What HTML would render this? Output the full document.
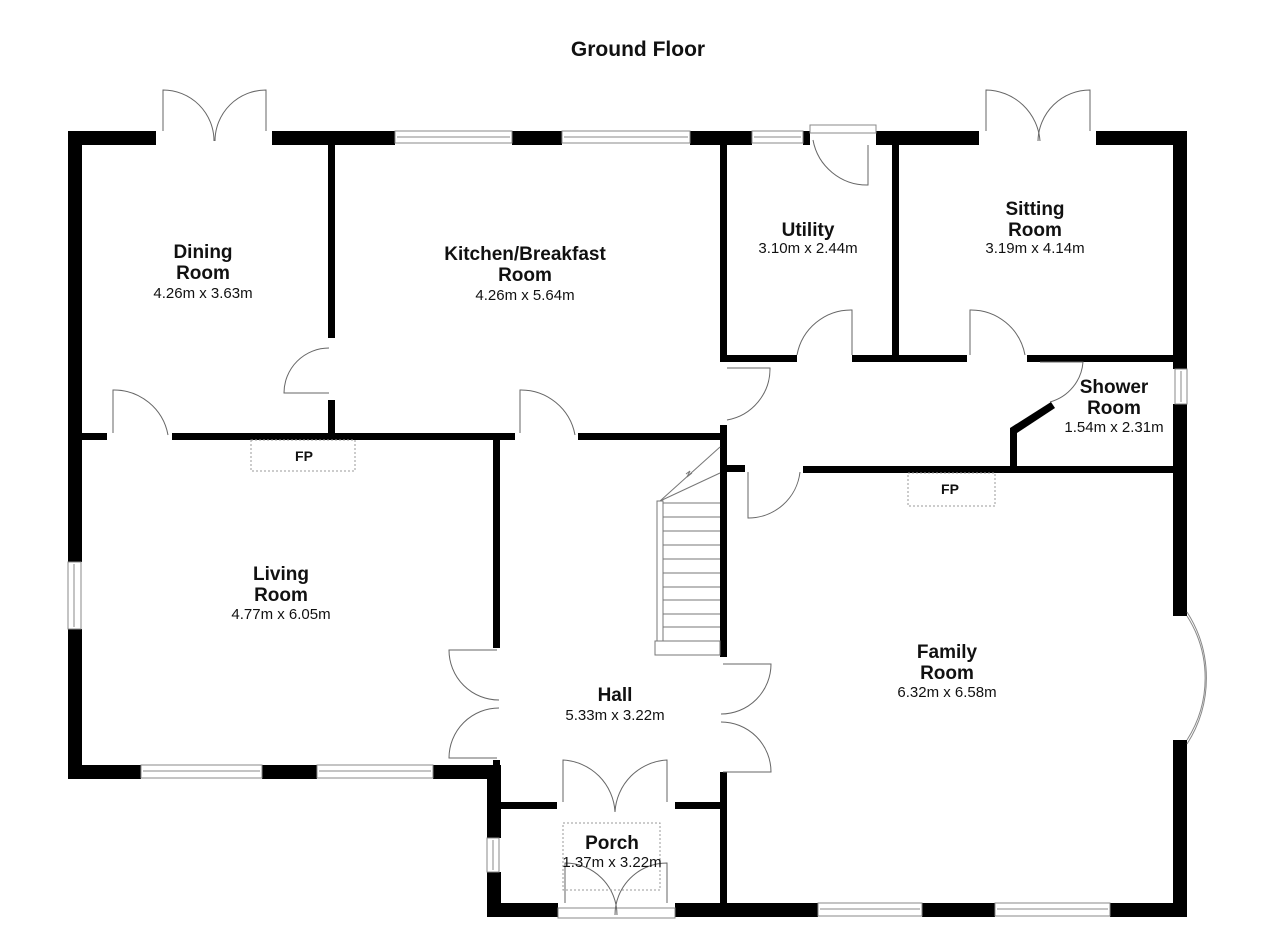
<!DOCTYPE html>
<html><head><meta charset="utf-8"><style>
html,body{margin:0;padding:0;background:#fff;}
svg{display:block;}
text{font-family:"Liberation Sans",Arial,sans-serif;fill:#111;text-anchor:middle;}
.t{font-weight:bold;font-size:19px;}
.d{font-size:15px;}
.door{fill:none;stroke:#666;stroke-width:1;}
.win{fill:#fff;stroke:#888;stroke-width:1;}
.fp{fill:none;stroke:#999;stroke-width:1;stroke-dasharray:2,2;}
</style></head><body>
<svg width="1280" height="931" viewBox="0 0 1280 931" xmlns="http://www.w3.org/2000/svg">
<rect width="1280" height="931" fill="#fff"/>
<text x="638" y="56" style="font-weight:bold;font-size:21px">Ground Floor</text>

<g fill="#000">
<!-- exterior -->
<rect x="68" y="131" width="14" height="431"/>
<rect x="68" y="629" width="14" height="150"/>
<rect x="68" y="131" width="88" height="14"/>
<rect x="272" y="131" width="123" height="14"/>
<rect x="512" y="131" width="50" height="14"/>
<rect x="690" y="131" width="62" height="14"/>
<rect x="803" y="131" width="7" height="14"/>
<rect x="876" y="131" width="103" height="14"/>
<rect x="1096" y="131" width="91" height="14"/>
<rect x="1173" y="131" width="14" height="238"/>
<rect x="1173" y="404" width="14" height="212"/>
<rect x="1173" y="740" width="14" height="177"/>
<rect x="68" y="765" width="73" height="14"/>
<rect x="262" y="765" width="55" height="14"/>
<rect x="433" y="765" width="68" height="14"/>
<rect x="487" y="765" width="14" height="73"/>
<rect x="487" y="872" width="14" height="45"/>
<rect x="487" y="903" width="71" height="14"/>
<rect x="675" y="903" width="143" height="14"/>
<rect x="922" y="903" width="73" height="14"/>
<rect x="1110" y="903" width="77" height="14"/>
<!-- interior -->
<rect x="328" y="145" width="7" height="193"/>
<rect x="328" y="400" width="7" height="35"/>
<rect x="82" y="433" width="25" height="7"/>
<rect x="172" y="433" width="343" height="7"/>
<rect x="578" y="433" width="149" height="7"/>
<rect x="493" y="440" width="7" height="208"/>
<rect x="493" y="760" width="7" height="50"/>
<rect x="500" y="802" width="57" height="7"/>
<rect x="675" y="802" width="45" height="7"/>
<rect x="720" y="145" width="7" height="217"/>
<rect x="720" y="425" width="7" height="232"/>
<rect x="720" y="772" width="7" height="134"/>
<rect x="727" y="355" width="70" height="7"/>
<rect x="852" y="355" width="115" height="7"/>
<rect x="892" y="145" width="7" height="212"/>
<rect x="1027" y="355" width="146" height="7"/>
<rect x="727" y="465" width="18" height="7"/>
<rect x="803" y="466" width="370" height="7"/>
<rect x="1010" y="428" width="7" height="40"/>
<polygon points="1010,428 1051,402 1055,408 1017,433"/>
</g>

<!-- windows -->
<g class="win">
<rect x="395" y="131" width="117" height="12"/><line x1="397" y1="137" x2="510" y2="137"/>
<rect x="562" y="131" width="128" height="12"/><line x1="564" y1="137" x2="688" y2="137"/>
<rect x="752" y="131" width="51" height="12"/><line x1="754" y1="137" x2="801" y2="137"/>
<rect x="810" y="125" width="66" height="8"/>
<rect x="141" y="765" width="121" height="13"/><line x1="143" y1="771" x2="260" y2="771"/>
<rect x="317" y="765" width="116" height="13"/><line x1="319" y1="771" x2="431" y2="771"/>
<rect x="818" y="903" width="104" height="13"/><line x1="820" y1="909" x2="920" y2="909"/>
<rect x="995" y="903" width="115" height="13"/><line x1="997" y1="909" x2="1108" y2="909"/>
<rect x="68" y="562" width="13" height="67"/><line x1="74" y1="564" x2="74" y2="627"/>
<rect x="1175" y="369" width="12" height="35"/><line x1="1181" y1="371" x2="1181" y2="402"/>
<rect x="487" y="838" width="12" height="34"/><line x1="493" y1="840" x2="493" y2="870"/>
<rect x="558" y="908" width="117" height="10"/>
<path d="M1187,616 A115,115 0 0 1 1187,740" fill="none"/>
<path d="M1187,612 A122,122 0 0 1 1187,744" fill="none"/>
</g>

<!-- doors -->
<g class="door">
<path d="M163,131 V90 A51,51 0 0 1 214,141"/>
<path d="M266,131 V90 A51,51 0 0 0 215,141"/>
<path d="M986,131 V90 A55,55 0 0 1 1040,141"/>
<path d="M1090,131 V90 A52,52 0 0 0 1038,141"/>
<path d="M329,393 H284 A45,45 0 0 1 329,348"/>
<path d="M113,433 V390 A55,55 0 0 1 168,435"/>
<path d="M520,433 V390 A55,55 0 0 1 575,435"/>
<path d="M868,145 V185 A55,55 0 0 1 813,140"/>
<path d="M852,355 V310 A55,55 0 0 0 797,355"/>
<path d="M970,355 V310 A55,55 0 0 1 1025,355"/>
<path d="M727,368 H770 A52,52 0 0 1 727,420"/>
<path d="M748,472 V518 A52,52 0 0 0 800,472"/>
<path d="M1040,362 H1083 A45,45 0 0 1 1050,402"/>
<path d="M497,650 H449 A50,50 0 0 0 499,700"/>
<path d="M497,758 H449 A50,50 0 0 1 499,708"/>
<path d="M723,664 H771 A50,50 0 0 1 721,714"/>
<path d="M723,772 H771 A50,50 0 0 0 721,722"/>
<path d="M563,802 V760 A55,55 0 0 1 615,812"/>
<path d="M667,802 V760 A55,55 0 0 0 615,812"/>
<path d="M565,903 V863 A52,52 0 0 1 617,915"/>
<path d="M667,903 V863 A52,52 0 0 0 615,915"/>
</g>

<!-- stairs -->
<g fill="none" stroke="#777" stroke-width="1">
<rect x="657" y="501" width="6" height="140"/>
<rect x="655" y="641" width="65" height="14"/>
<line x1="663" y1="503" x2="720" y2="503"/>
<line x1="663" y1="517" x2="720" y2="517"/>
<line x1="663" y1="531" x2="720" y2="531"/>
<line x1="663" y1="545" x2="720" y2="545"/>
<line x1="663" y1="559" x2="720" y2="559"/>
<line x1="663" y1="573" x2="720" y2="573"/>
<line x1="663" y1="587" x2="720" y2="587"/>
<line x1="663" y1="600" x2="720" y2="600"/>
<line x1="663" y1="614" x2="720" y2="614"/>
<line x1="663" y1="627" x2="720" y2="627"/>
<line x1="660" y1="501" x2="720" y2="447"/>
<line x1="660" y1="501" x2="720" y2="473"/>
<path d="M686,474 l4,-3 -3,6 5,-4"/>
</g>

<!-- fireplaces / porch dashed -->
<rect class="fp" x="251" y="440" width="104" height="31"/>
<rect class="fp" x="908" y="473" width="87" height="33"/>
<rect class="fp" x="563" y="823" width="97" height="67"/>
<text x="304" y="461" style="font-weight:bold;font-size:14px">FP</text>
<text x="950" y="494" style="font-weight:bold;font-size:14px">FP</text>

<!-- labels -->
<text class="t" x="203" y="258">Dining</text>
<text class="t" x="203" y="279">Room</text>
<text class="d" x="203" y="298">4.26m x 3.63m</text>
<text class="t" x="525" y="260">Kitchen/Breakfast</text>
<text class="t" x="525" y="281">Room</text>
<text class="d" x="525" y="300">4.26m x 5.64m</text>
<text class="t" x="808" y="236">Utility</text>
<text class="d" x="808" y="253">3.10m x 2.44m</text>
<text class="t" x="1035" y="215">Sitting</text>
<text class="t" x="1035" y="236">Room</text>
<text class="d" x="1035" y="253">3.19m x 4.14m</text>
<text class="t" x="1114" y="393">Shower</text>
<text class="t" x="1114" y="414">Room</text>
<text class="d" x="1114" y="432">1.54m x 2.31m</text>
<text class="t" x="281" y="580">Living</text>
<text class="t" x="281" y="601">Room</text>
<text class="d" x="281" y="619">4.77m x 6.05m</text>
<text class="t" x="615" y="701">Hall</text>
<text class="d" x="615" y="720">5.33m x 3.22m</text>
<text class="t" x="947" y="658">Family</text>
<text class="t" x="947" y="679">Room</text>
<text class="d" x="947" y="697">6.32m x 6.58m</text>
<text class="t" x="612" y="849">Porch</text>
<text class="d" x="612" y="867">1.37m x 3.22m</text>
</svg>
</body></html>
